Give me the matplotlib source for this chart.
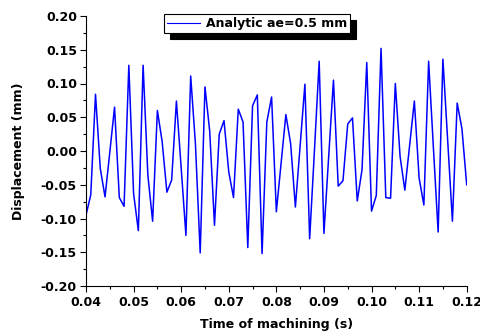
import numpy as np
import matplotlib.pyplot as plt

plt.rcParams['font.family'] = ['DejaVu Sans']
plt.rcParams['font.weight'] = 'bold'

# time samples, 1 ms apart
t = np.round(np.arange(0.040, 0.1205, 0.001), 3)

# displacement (mm)
disp = [
    -0.095, -0.065, 0.084, -0.026, -0.068, -0.002, 0.065, -0.069, -0.082, 0.127,
    -0.063, -0.118, 0.127, -0.036, -0.104, 0.060, 0.014, -0.061, -0.043, 0.074,
    -0.025, -0.125, 0.111, 0.010, -0.151, 0.095, 0.029, -0.110, 0.025, 0.045,
    -0.031, -0.069, 0.062, 0.043, -0.143, 0.067, 0.083, -0.152, 0.043, 0.080,
    -0.090, -0.018, 0.054, 0.011, -0.083, 0.008, 0.099, -0.130, 0.000, 0.133,
    -0.122, -0.008, 0.105, -0.052, -0.044, 0.040, 0.049, -0.074, -0.028, 0.131,
    -0.089, -0.066, 0.152, -0.069, -0.070, 0.100, -0.008, -0.058, 0.008, 0.074,
    -0.040, -0.080, 0.133, 0.005, -0.120, 0.136, 0.016, -0.104, 0.071, 0.033,
    -0.050,
]

xticks = [0.04, 0.05, 0.06, 0.07, 0.08, 0.09, 0.10, 0.11, 0.12]
yticks = [-0.20, -0.15, -0.10, -0.05, 0.00, 0.05, 0.10, 0.15, 0.20]

fig = plt.figure(figsize=(4.81, 3.33), dpi=100)
ax = fig.add_axes([86 / 481, 1 - 286 / 333, 380.7 / 481, 270 / 333])

ax.plot(t, disp, color='#0000ff', lw=1.1, label='Analytic ae=0.5 mm')

ax.set_xlim(0.04, 0.12)
ax.set_ylim(-0.20, 0.20)
ax.set_xticks(xticks)
ax.set_yticks(yticks)
ax.set_xticklabels([f'{v:.2f}' for v in xticks])
ax.set_yticklabels([f'{v:.2f}' for v in yticks])
ax.set_xticks(np.arange(0.045, 0.12, 0.01), minor=True)
ax.set_yticks(np.arange(-0.175, 0.2, 0.05), minor=True)
ax.tick_params(which='major', direction='out', length=4, width=0.8, labelsize=9, pad=2.5)
ax.tick_params(axis='x', which='major', pad=3.5)
ax.tick_params(which='minor', direction='out', length=2.5, width=0.8)

for s in ['top', 'right']:
    ax.spines[s].set_visible(False)

ax.set_xlabel('Time of machining (s)', fontsize=9, fontweight='bold', labelpad=6.5)
ax.set_ylabel('Displacement (mm)', fontsize=9, fontweight='bold', labelpad=11.5)

leg = ax.legend(loc='upper center', bbox_to_anchor=(0.45, 1.03), fontsize=9,
                fancybox=False, edgecolor='black', framealpha=1,
                shadow={'color': 'black', 'alpha': 1, 'ox': 4, 'oy': -4},
                handlelength=2.6, borderpad=0.25, handletextpad=0.5)
leg.get_frame().set_linewidth(0.8)
leg.get_lines()[0].set_linewidth(0.8)

plt.savefig('out.png', dpi=100)
